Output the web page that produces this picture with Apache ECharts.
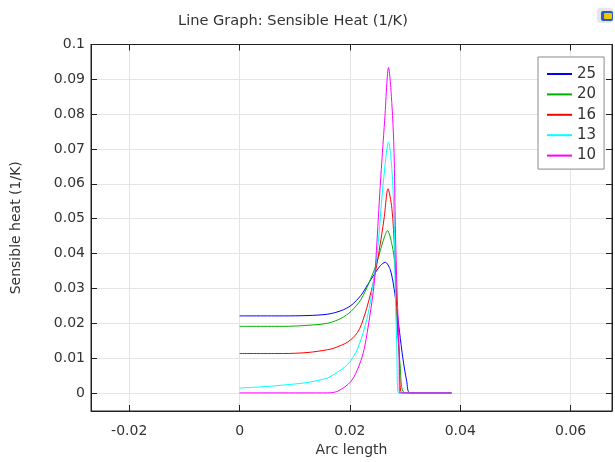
<!DOCTYPE html>
<html>
<head>
<meta charset="utf-8">
<script src="https://cdn.jsdelivr.net/npm/echarts@6/dist/echarts.min.js"></script>
<style>
html,body{margin:0;padding:0;background:#fff;}
#chart{width:615px;height:462px;}
</style>
</head>
<body>
<div id="chart"></div>
<script>
// Legend labels
var seriesNames = ['25', '20', '16', '13', '10'];
var seriesColors = ['#0000ff', '#00b000', '#ff0000', '#00ffff', '#ff00ff'];

// Arc length (x) and sensible heat (y) per series
var arc25  = [0, 0.008, 0.0124, 0.0160, 0.0184, 0.0202, 0.0220, 0.0232, 0.0244, 0.0255, 0.0264, 0.0273, 0.0280, 0.0285, 0.0290, 0.0296, 0.0303, 0.0309, 0.0384];
var heat25 = [0.0221, 0.0221, 0.0222, 0.0226, 0.0236, 0.0251, 0.0280, 0.0310, 0.0340, 0.0365, 0.0375, 0.0354, 0.0300, 0.0239, 0.0174, 0.0099, 0.0033, 0, 0];

var arc20  = [0, 0.008, 0.0124, 0.0160, 0.0184, 0.0202, 0.0220, 0.0234, 0.0246, 0.0255, 0.0262, 0.0268, 0.0276, 0.0282, 0.0285, 0.0291, 0.0300, 0.0384];
var heat20 = [0.0191, 0.0191, 0.0194, 0.0200, 0.0214, 0.0234, 0.0268, 0.0314, 0.0361, 0.0408, 0.0445, 0.0466, 0.0427, 0.0361, 0.0220, 0.0080, 0, 0];

var arc16  = [0, 0.008, 0.0124, 0.0160, 0.0172, 0.0196, 0.0214, 0.0226, 0.0242, 0.0253, 0.0262, 0.0269, 0.0276, 0.0281, 0.0284, 0.0289, 0.0294, 0.0384];
var heat16 = [0.0113, 0.0113, 0.0116, 0.0124, 0.0129, 0.0146, 0.0174, 0.0220, 0.0314, 0.0408, 0.0502, 0.0586, 0.0530, 0.0408, 0.0267, 0.0127, 0, 0];

var arc13  = [0, 0.0046, 0.0090, 0.0124, 0.0148, 0.0160, 0.0172, 0.0196, 0.0214, 0.0232, 0.0242, 0.0250, 0.0255, 0.0260, 0.0270, 0.0276, 0.0280, 0.0282, 0.0285, 0.0288, 0.0384];
var heat13 = [0.0014, 0.0018, 0.0024, 0.0030, 0.0038, 0.0043, 0.0054, 0.0082, 0.0127, 0.0220, 0.0314, 0.0408, 0.0502, 0.0596, 0.0720, 0.0643, 0.0502, 0.0314, 0.0127, 0, 0];

var arc10  = [0, 0.0160, 0.0178, 0.0202, 0.0217, 0.0226, 0.0236, 0.0244, 0.0248, 0.0255, 0.0263, 0.0270, 0.0276, 0.0280, 0.0282, 0.0285, 0.0289, 0.0290, 0.0384];
var heat10 = [0, 0, 0.0005, 0.0033, 0.0080, 0.0127, 0.0220, 0.0314, 0.0408, 0.0596, 0.0783, 0.0934, 0.0830, 0.0690, 0.0502, 0.0314, 0.0127, 0, 0];

var xTicks = [-0.02, 0, 0.02, 0.04, 0.06];

var arcs = [arc25, arc20, arc16, arc13, arc10];
var heats = [heat25, heat20, heat16, heat13, heat10];

function pairs(xs, ys) { return xs.map(function (x, i) { return [x, ys[i]]; }); }

var font = 'DejaVu Sans';
var series = seriesNames.map(function (n, i) {
  return {
    name: n, type: 'line', xAxisIndex: 0, yAxisIndex: 0,
    data: pairs(arcs[i], heats[i]),
    symbol: 'none', showSymbol: false,
    smooth: 0.3,
    lineStyle: { width: 1, color: seriesColors[i] },
    itemStyle: { color: seriesColors[i] },
    z: 2 + i
  };
});

function xFmt(v) {
  for (var k = 0; k < xTicks.length; k++) {
    if (Math.abs(v - xTicks[k]) < 1e-9) return String(xTicks[k]);
  }
  return '';
}
function yFmt(v) {
  var r = Math.round(v * 100);
  if (Math.abs(v * 100 - r) > 1e-6 || r < 0) return '';
  return String(r / 100);
}

var chart = echarts.init(document.getElementById('chart'), null, { renderer: 'canvas' });
chart.setOption({
  animation: false,
  backgroundColor: '#ffffff',
  title: {
    text: 'Line Graph: Sensible Heat (1/K)',
    left: 178, top: 13.5, padding: 0,
    textStyle: { fontFamily: font, fontSize: 14.6, fontWeight: 'normal', color: '#333' }
  },
  grid: {
    left: 91, top: 44.5, right: -2, bottom: 44,
    show: true, borderColor: '#222', borderWidth: 1, backgroundColor: 'transparent'
  },
  legend: {
    orient: 'vertical',
    left: 538, top: 57,
    padding: [9.5, 8, 6, 9],
    itemGap: 5.4,
    itemWidth: 25, itemHeight: 2,
    icon: 'rect',
    backgroundColor: '#ffffff',
    borderColor: '#8a8a8a', borderWidth: 1,
    textStyle: { fontFamily: font, fontSize: 15, lineHeight: 15, color: '#333' },
    data: seriesNames
  },
  xAxis: [{
    type: 'value', position: 'bottom',
    min: -0.02693, max: 0.0675, splitNumber: 5,
    name: 'Arc length', nameLocation: 'middle', nameGap: 32,
    nameTextStyle: { fontFamily: font, fontSize: 14, color: '#333' },
    axisLine: { show: true, onZero: false, lineStyle: { color: '#222', width: 1 } },
    axisTick: { show: true, inside: true, length: 6, lineStyle: { color: '#222' } },
    axisLabel: { formatter: xFmt, fontFamily: font, fontSize: 14, color: '#333', margin: 13 },
    splitLine: { show: true, lineStyle: { color: '#e4e4e4', width: 1 } }
  }, {
    type: 'value', position: 'top',
    min: -0.02693, max: 0.0675, splitNumber: 5,
    axisLine: { show: true, onZero: false, lineStyle: { color: '#222', width: 1 } },
    axisTick: { show: true, inside: true, length: 6, lineStyle: { color: '#222' } },
    axisLabel: { show: false },
    splitLine: { show: false }
  }],
  yAxis: [{
    type: 'value', position: 'left',
    min: -0.0052, max: 0.1, splitNumber: 10,
    name: 'Sensible heat (1/K)', nameLocation: 'middle', nameGap: 68, nameRotate: 90,
    nameTextStyle: { fontFamily: font, fontSize: 14, color: '#333' },
    axisLine: { show: true, onZero: false, lineStyle: { color: '#222', width: 1 } },
    axisTick: { show: true, inside: true, length: 6, lineStyle: { color: '#222' } },
    axisLabel: { formatter: yFmt, fontFamily: font, fontSize: 14, color: '#333', margin: 6 },
    splitLine: { show: true, lineStyle: { color: '#e4e4e4', width: 1 } }
  }, {
    type: 'value', position: 'right',
    min: -0.0052, max: 0.1, splitNumber: 10,
    axisLine: { show: true, onZero: false, lineStyle: { color: '#222', width: 1 } },
    axisTick: { show: true, inside: true, length: 6, lineStyle: { color: '#222' } },
    axisLabel: { show: false },
    splitLine: { show: false }
  }],
  graphic: [
    { type: 'rect', shape: { x: 597, y: 8, width: 16, height: 15, r: 3 }, style: { fill: '#e6e6e6' }, silent: true },
    { type: 'rect', shape: { x: 601, y: 11, width: 12, height: 10, r: 2 }, style: { fill: '#1f5fc8' }, silent: true },
    { type: 'rect', shape: { x: 604, y: 13, width: 8, height: 6, r: 1 }, style: { fill: '#f2c500' }, silent: true }
  ],
  series: series
});
</script>
</body>
</html>
